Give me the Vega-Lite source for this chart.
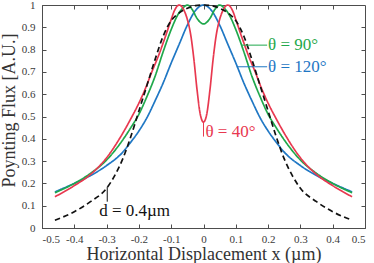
{
  "$schema": "https://vega.github.io/schema/vega-lite/v6.json",
  "width": 323,
  "height": 223,
  "autosize": {"type": "none"},
  "padding": {"left": 42, "top": 5, "right": 9, "bottom": 35},
  "background": "white",
  "config": {
    "view": {"stroke": "#4d4d4d", "strokeWidth": 1},
    "font": "Liberation Serif",
    "axis": {
      "grid": false,
      "domainColor": "#4d4d4d",
      "tickColor": "#4d4d4d",
      "tickSize": -4,
      "labelFont": "Liberation Serif",
      "labelFontSize": 11,
      "labelColor": "#3a3a3a",
      "titleFont": "Liberation Serif",
      "titleFontWeight": "normal",
      "titleFontSize": 18,
      "titleColor": "#333333"
    }
  },
  "datasets": {
    "curves": [
      {"series": "θ = 120°", "x": -0.46, "y": 0.162},
      {"series": "θ = 120°", "x": -0.4, "y": 0.2},
      {"series": "θ = 120°", "x": -0.35, "y": 0.235},
      {"series": "θ = 120°", "x": -0.3, "y": 0.28},
      {"series": "θ = 120°", "x": -0.25, "y": 0.34},
      {"series": "θ = 120°", "x": -0.225, "y": 0.385},
      {"series": "θ = 120°", "x": -0.2, "y": 0.435},
      {"series": "θ = 120°", "x": -0.175, "y": 0.495},
      {"series": "θ = 120°", "x": -0.15, "y": 0.57},
      {"series": "θ = 120°", "x": -0.125, "y": 0.65},
      {"series": "θ = 120°", "x": -0.1, "y": 0.74},
      {"series": "θ = 120°", "x": -0.075, "y": 0.825},
      {"series": "θ = 120°", "x": -0.05, "y": 0.91},
      {"series": "θ = 120°", "x": -0.025, "y": 0.975},
      {"series": "θ = 120°", "x": 0, "y": 1.0},
      {"series": "θ = 120°", "x": 0.025, "y": 0.975},
      {"series": "θ = 120°", "x": 0.05, "y": 0.91},
      {"series": "θ = 120°", "x": 0.075, "y": 0.825},
      {"series": "θ = 120°", "x": 0.1, "y": 0.74},
      {"series": "θ = 120°", "x": 0.125, "y": 0.65},
      {"series": "θ = 120°", "x": 0.15, "y": 0.57},
      {"series": "θ = 120°", "x": 0.175, "y": 0.495},
      {"series": "θ = 120°", "x": 0.2, "y": 0.435},
      {"series": "θ = 120°", "x": 0.225, "y": 0.385},
      {"series": "θ = 120°", "x": 0.25, "y": 0.34},
      {"series": "θ = 120°", "x": 0.3, "y": 0.28},
      {"series": "θ = 120°", "x": 0.35, "y": 0.235},
      {"series": "θ = 120°", "x": 0.4, "y": 0.2},
      {"series": "θ = 120°", "x": 0.46, "y": 0.162},

      {"series": "θ = 90°", "x": -0.46, "y": 0.158},
      {"series": "θ = 90°", "x": -0.4, "y": 0.2},
      {"series": "θ = 90°", "x": -0.35, "y": 0.245},
      {"series": "θ = 90°", "x": -0.3, "y": 0.305},
      {"series": "θ = 90°", "x": -0.25, "y": 0.395},
      {"series": "θ = 90°", "x": -0.225, "y": 0.45},
      {"series": "θ = 90°", "x": -0.2, "y": 0.51},
      {"series": "θ = 90°", "x": -0.175, "y": 0.59},
      {"series": "θ = 90°", "x": -0.15, "y": 0.68},
      {"series": "θ = 90°", "x": -0.125, "y": 0.79},
      {"series": "θ = 90°", "x": -0.1, "y": 0.89},
      {"series": "θ = 90°", "x": -0.08, "y": 0.955},
      {"series": "θ = 90°", "x": -0.065, "y": 0.985},
      {"series": "θ = 90°", "x": -0.05, "y": 1.0},
      {"series": "θ = 90°", "x": -0.035, "y": 0.98},
      {"series": "θ = 90°", "x": -0.02, "y": 0.94},
      {"series": "θ = 90°", "x": 0, "y": 0.915},
      {"series": "θ = 90°", "x": 0.02, "y": 0.94},
      {"series": "θ = 90°", "x": 0.035, "y": 0.98},
      {"series": "θ = 90°", "x": 0.05, "y": 1.0},
      {"series": "θ = 90°", "x": 0.065, "y": 0.985},
      {"series": "θ = 90°", "x": 0.08, "y": 0.955},
      {"series": "θ = 90°", "x": 0.1, "y": 0.89},
      {"series": "θ = 90°", "x": 0.125, "y": 0.79},
      {"series": "θ = 90°", "x": 0.15, "y": 0.68},
      {"series": "θ = 90°", "x": 0.175, "y": 0.59},
      {"series": "θ = 90°", "x": 0.2, "y": 0.51},
      {"series": "θ = 90°", "x": 0.225, "y": 0.45},
      {"series": "θ = 90°", "x": 0.25, "y": 0.395},
      {"series": "θ = 90°", "x": 0.3, "y": 0.305},
      {"series": "θ = 90°", "x": 0.35, "y": 0.245},
      {"series": "θ = 90°", "x": 0.4, "y": 0.2},
      {"series": "θ = 90°", "x": 0.46, "y": 0.158},

      {"series": "θ = 40°", "x": -0.46, "y": 0.14},
      {"series": "θ = 40°", "x": -0.4, "y": 0.19},
      {"series": "θ = 40°", "x": -0.35, "y": 0.24},
      {"series": "θ = 40°", "x": -0.3, "y": 0.315},
      {"series": "θ = 40°", "x": -0.25, "y": 0.425},
      {"series": "θ = 40°", "x": -0.225, "y": 0.49},
      {"series": "θ = 40°", "x": -0.2, "y": 0.56},
      {"series": "θ = 40°", "x": -0.18, "y": 0.625},
      {"series": "θ = 40°", "x": -0.16, "y": 0.7},
      {"series": "θ = 40°", "x": -0.14, "y": 0.77},
      {"series": "θ = 40°", "x": -0.12, "y": 0.85},
      {"series": "θ = 40°", "x": -0.1, "y": 0.935},
      {"series": "θ = 40°", "x": -0.09, "y": 0.975},
      {"series": "θ = 40°", "x": -0.075, "y": 1.0},
      {"series": "θ = 40°", "x": -0.06, "y": 0.975},
      {"series": "θ = 40°", "x": -0.05, "y": 0.935},
      {"series": "θ = 40°", "x": -0.04, "y": 0.87},
      {"series": "θ = 40°", "x": -0.03, "y": 0.76},
      {"series": "θ = 40°", "x": -0.02, "y": 0.62},
      {"series": "θ = 40°", "x": -0.01, "y": 0.51},
      {"series": "θ = 40°", "x": 0, "y": 0.475},
      {"series": "θ = 40°", "x": 0.01, "y": 0.51},
      {"series": "θ = 40°", "x": 0.02, "y": 0.62},
      {"series": "θ = 40°", "x": 0.03, "y": 0.76},
      {"series": "θ = 40°", "x": 0.04, "y": 0.87},
      {"series": "θ = 40°", "x": 0.05, "y": 0.935},
      {"series": "θ = 40°", "x": 0.06, "y": 0.975},
      {"series": "θ = 40°", "x": 0.075, "y": 1.0},
      {"series": "θ = 40°", "x": 0.09, "y": 0.975},
      {"series": "θ = 40°", "x": 0.1, "y": 0.935},
      {"series": "θ = 40°", "x": 0.12, "y": 0.85},
      {"series": "θ = 40°", "x": 0.14, "y": 0.77},
      {"series": "θ = 40°", "x": 0.16, "y": 0.7},
      {"series": "θ = 40°", "x": 0.18, "y": 0.625},
      {"series": "θ = 40°", "x": 0.2, "y": 0.56},
      {"series": "θ = 40°", "x": 0.225, "y": 0.49},
      {"series": "θ = 40°", "x": 0.25, "y": 0.425},
      {"series": "θ = 40°", "x": 0.3, "y": 0.315},
      {"series": "θ = 40°", "x": 0.35, "y": 0.24},
      {"series": "θ = 40°", "x": 0.4, "y": 0.19},
      {"series": "θ = 40°", "x": 0.46, "y": 0.14},

      {"series": "d = 0.4µm", "x": -0.46, "y": 0.035},
      {"series": "d = 0.4µm", "x": -0.4, "y": 0.073},
      {"series": "d = 0.4µm", "x": -0.35, "y": 0.118},
      {"series": "d = 0.4µm", "x": -0.3, "y": 0.178},
      {"series": "d = 0.4µm", "x": -0.275, "y": 0.235},
      {"series": "d = 0.4µm", "x": -0.25, "y": 0.31},
      {"series": "d = 0.4µm", "x": -0.225, "y": 0.41},
      {"series": "d = 0.4µm", "x": -0.2, "y": 0.525},
      {"series": "d = 0.4µm", "x": -0.175, "y": 0.64},
      {"series": "d = 0.4µm", "x": -0.15, "y": 0.755},
      {"series": "d = 0.4µm", "x": -0.125, "y": 0.86},
      {"series": "d = 0.4µm", "x": -0.1, "y": 0.93},
      {"series": "d = 0.4µm", "x": -0.075, "y": 0.965},
      {"series": "d = 0.4µm", "x": -0.05, "y": 0.985},
      {"series": "d = 0.4µm", "x": -0.025, "y": 0.997},
      {"series": "d = 0.4µm", "x": 0, "y": 1.0},
      {"series": "d = 0.4µm", "x": 0.025, "y": 0.997},
      {"series": "d = 0.4µm", "x": 0.05, "y": 0.985},
      {"series": "d = 0.4µm", "x": 0.075, "y": 0.965},
      {"series": "d = 0.4µm", "x": 0.1, "y": 0.93},
      {"series": "d = 0.4µm", "x": 0.125, "y": 0.86},
      {"series": "d = 0.4µm", "x": 0.15, "y": 0.755},
      {"series": "d = 0.4µm", "x": 0.175, "y": 0.64},
      {"series": "d = 0.4µm", "x": 0.2, "y": 0.525},
      {"series": "d = 0.4µm", "x": 0.225, "y": 0.41},
      {"series": "d = 0.4µm", "x": 0.25, "y": 0.31},
      {"series": "d = 0.4µm", "x": 0.275, "y": 0.235},
      {"series": "d = 0.4µm", "x": 0.3, "y": 0.178},
      {"series": "d = 0.4µm", "x": 0.35, "y": 0.118},
      {"series": "d = 0.4µm", "x": 0.4, "y": 0.073},
      {"series": "d = 0.4µm", "x": 0.46, "y": 0.035}
    ],
    "hleaders": [
      {"series": "θ = 90°", "x": 0.118, "x2": 0.197, "y": 0.82},
      {"series": "θ = 120°", "x": 0.103, "x2": 0.197, "y": 0.723}
    ],
    "vleaders": [
      {"series": "θ = 40°", "x": 0.0, "y": 0.475, "y2": 0.41},
      {"series": "d = 0.4µm", "x": -0.298, "y": 0.185, "y2": 0.118}
    ],
    "labels": [
      {"series": "θ = 90°", "x": 0.2, "y": 0.82},
      {"series": "θ = 120°", "x": 0.2, "y": 0.723},
      {"series": "θ = 40°", "x": 0.006, "y": 0.432},
      {"series": "d = 0.4µm", "x": -0.323, "y": 0.078}
    ]
  },
  "layer": [
    {
      "data": {"name": "curves"},
      "mark": {"type": "line", "interpolate": "monotone", "strokeWidth": 1.7},
      "encoding": {
        "x": {
          "field": "x", "type": "quantitative",
          "scale": {"domain": [-0.5, 0.5], "nice": false, "zero": false},
          "axis": {
            "orient": "bottom",
            "values": [-0.5, -0.4, -0.3, -0.2, -0.1, 0, 0.1, 0.2, 0.3, 0.4, 0.5],
            "labelExpr": "replace(format(datum.value, '~g'), '−', '-')",
            "labelPadding": 9,
            "title": "Horizontal Displacement x (µm)",
            "titlePadding": 1
          }
        },
        "y": {
          "field": "y", "type": "quantitative",
          "scale": {"domain": [0, 1], "nice": false},
          "axis": {
            "orient": "left",
            "values": [0, 0.1, 0.2, 0.3, 0.4, 0.5, 0.6, 0.7, 0.8, 0.9, 1],
            "format": "~g",
            "labelPadding": 11,
            "title": "Poynting Flux [A.U.]",
            "titlePadding": 3,
            "titleY": 105
          }
        },
        "color": {
          "field": "series", "type": "nominal",
          "scale": {
            "domain": ["θ = 120°", "θ = 90°", "θ = 40°", "d = 0.4µm"],
            "range": ["#1f77c4", "#1fa84b", "#e8384f", "#111111"]
          },
          "legend": null
        },
        "strokeDash": {
          "field": "series", "type": "nominal",
          "scale": {
            "domain": ["θ = 120°", "θ = 90°", "θ = 40°", "d = 0.4µm"],
            "range": [[1, 0], [1, 0], [1, 0], [5.5, 3.5]]
          },
          "legend": null
        }
      }
    },
    {
      "data": {"name": "hleaders"},
      "mark": {"type": "rule", "strokeWidth": 1},
      "encoding": {
        "x": {"field": "x", "type": "quantitative", "axis": null},
        "x2": {"field": "x2"},
        "y": {"field": "y", "type": "quantitative", "axis": null},
        "color": {"field": "series", "type": "nominal", "legend": null}
      }
    },
    {
      "data": {"name": "vleaders"},
      "mark": {"type": "rule", "strokeWidth": 1},
      "encoding": {
        "x": {"field": "x", "type": "quantitative", "axis": null},
        "y": {"field": "y", "type": "quantitative", "axis": null},
        "y2": {"field": "y2"},
        "color": {"field": "series", "type": "nominal", "legend": null}
      }
    },
    {
      "data": {"name": "labels"},
      "mark": {"type": "text", "align": "left", "baseline": "middle", "fontSize": 17, "font": "Liberation Serif"},
      "encoding": {
        "x": {"field": "x", "type": "quantitative", "axis": null},
        "y": {"field": "y", "type": "quantitative", "axis": null},
        "text": {"field": "series"},
        "color": {"field": "series", "type": "nominal", "legend": null}
      }
    },
    {
      "data": {"name": "curves"},
      "mark": {"type": "point", "opacity": 0},
      "encoding": {
        "x": {
          "field": "x", "type": "quantitative",
          "axis": {"orient": "top", "labels": false, "title": null, "domain": false,
                   "values": [-0.4, -0.3, -0.2, -0.1, 0, 0.1, 0.2, 0.3, 0.4]}
        },
        "y": {
          "field": "y", "type": "quantitative",
          "axis": {"orient": "right", "labels": false, "title": null, "domain": false,
                   "values": [0.1, 0.2, 0.3, 0.4, 0.5, 0.6, 0.7, 0.8, 0.9]}
        }
      }
    }
  ],
  "resolve": {"axis": {"x": "independent", "y": "independent"}}
}
